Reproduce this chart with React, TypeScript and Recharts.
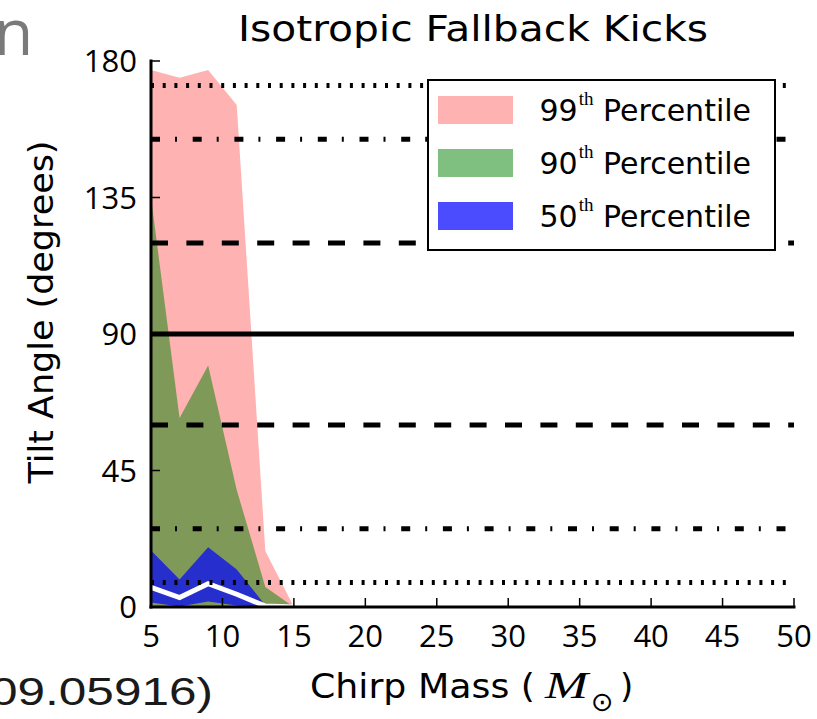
import {
  ComposedChart,
  Area,
  Line,
  XAxis,
  YAxis,
  ReferenceLine,
  Legend,
} from 'recharts';

// chirp mass bins (solar masses)
const chirpMass = [5, 7, 9, 11, 13, 15];

// tilt angle percentile bands, degrees
const p99Low = [0, 0, 0, 0, 0, 0];
const p99High = [177, 174.5, 177, 165.5, 18.5, 0];
const p90Low = [0.3, 0.3, 0.3, 0.3, 0.2, 0];
const p90High = [135, 62.3, 79.6, 38.6, 6.6, 0];
const p50Low = [1.5, 0.2, 1.8, 0.5, 0, 0];
const p50High = [18.6, 9.1, 19.7, 12.4, 0.6, 0];
const median = [6.5, 3.1, 7.7, 4.2, 0.3, 0];

const xTicks = [5, 10, 15, 20, 25, 30, 35, 40, 45, 50];
const yTicks = [0, 45, 90, 135, 180];

// isotropic reference angles (central 99 / 90 / 50 % and 90 deg)
const isoAngles = [8.1, 25.8, 60, 90, 120, 154.2, 171.9];

const percentileNames = ['99', '90', '50'];

const FONT = '"Open Sans", "DejaVu Sans", sans-serif';
const LABEL_FONT = '"DejaVu Sans", sans-serif';

const data = chirpMass.map((m, i) => ({
  x: m,
  p99: [p99Low[i], p99High[i]],
  p90: [p90Low[i], p90High[i]],
  p50: [p50Low[i], p50High[i]],
  median: median[i],
}));

function dashFor(angle: number): string | undefined {
  const d = Math.abs(angle - 90);
  if (d > 75) return '3 8.7';
  if (d > 45) return '9 15 2 15.7';
  if (d > 10) return '17 18.4';
  return undefined;
}

const swatch = ['rgba(255,0,0,0.3)', 'rgba(0,128,0,0.5)', 'rgba(0,0,255,0.7)'];

function LegendBox() {
  return (
    <div
      style={{
        position: 'relative',
        boxSizing: 'border-box',
        width: 349,
        height: 172,
        border: '2.5px solid #000',
        background: '#fff',
        fontFamily: LABEL_FONT,
      }}
    >
      {percentileNames.map((n, i) => (
        <div key={n}>
          <div
            style={{
              position: 'absolute',
              left: 9,
              top: 14.5 + i * 53.3,
              width: 75,
              height: 28,
              background: swatch[i],
            }}
          />
          <div
            style={{
              position: 'absolute',
              left: 110.5,
              top: 11.8 + i * 53.3,
              fontSize: 30,
              lineHeight: '36px',
              whiteSpace: 'nowrap',
              color: '#000',
            }}
          >
            {n}
            <span
              style={{
                fontFamily: '"Liberation Serif", serif',
                fontSize: 19,
                position: 'relative',
                top: -16,
                marginLeft: 1,
              }}
            >
              th
            </span>{' '}
            Percentile
          </div>
        </div>
      ))}
    </div>
  );
}

export default function App() {
  const tickStyle = { fontSize: 31, fill: '#000', fontFamily: FONT };
  const axisLine = { stroke: '#000', strokeWidth: 3, strokeLinecap: 'square' as const };
  const tickLine = { stroke: '#000', strokeWidth: 1.5 };

  return (
    <div
      style={{
        position: 'fixed',
        left: 0,
        top: 0,
        width: 817,
        height: 719,
        background: '#fff',
      }}
    >
      <ComposedChart
        width={817}
        height={719}
        data={data}
        margin={{ top: 61, right: 23, left: 51, bottom: 52 }}
      >
        <Area
          type="linear"
          dataKey="p99"
          fill="#ff0000"
          fillOpacity={0.3}
          stroke="none"
          isAnimationActive={false}
        />
        <Area
          type="linear"
          dataKey="p90"
          fill="#008000"
          fillOpacity={0.5}
          stroke="none"
          isAnimationActive={false}
        />
        <Area
          type="linear"
          dataKey="p50"
          fill="#0000ff"
          fillOpacity={0.7}
          stroke="none"
          isAnimationActive={false}
        />
        <Line
          type="linear"
          dataKey="median"
          stroke="#fff"
          strokeWidth={5}
          dot={false}
          isAnimationActive={false}
        />
        {isoAngles.map((a) => (
          <ReferenceLine
            key={a}
            y={a}
            stroke="#000"
            strokeWidth={5}
            strokeDasharray={dashFor(a)}
          />
        ))}
        <XAxis
          dataKey="x"
          type="number"
          domain={[5, 50]}
          ticks={xTicks}
          interval={0}
          height={60}
          tickSize={-9}
          tickMargin={27}
          tick={tickStyle}
          tickLine={tickLine}
          axisLine={axisLine}
        />
        <XAxis
          xAxisId="top"
          orientation="top"
          type="number"
          domain={[5, 50]}
          ticks={xTicks}
          interval={0}
          height={0}
          tickSize={-9}
          tick={false}
          tickLine={tickLine}
          axisLine={axisLine}
        />
        <YAxis
          type="number"
          domain={[0, 180]}
          ticks={yTicks}
          interval={0}
          width={100}
          tickSize={-9}
          tickMargin={23}
          tick={tickStyle}
          tickLine={tickLine}
          axisLine={axisLine}
        />
        <YAxis
          yAxisId="right"
          orientation="right"
          type="number"
          domain={[0, 180]}
          ticks={yTicks}
          interval={0}
          width={0}
          tickSize={-9}
          tick={false}
          tickLine={tickLine}
          axisLine={axisLine}
        />
        <Legend
          layout="vertical"
          align="center"
          verticalAlign="middle"
          wrapperStyle={{ left: 427, top: 79, width: 349 }}
          content={() => <LegendBox />}
        />
        <text
          x={473}
          y={41}
          textAnchor="middle"
          fontSize={35}
          fontFamily={LABEL_FONT}
          fill="#000"
          textLength={470}
          lengthAdjust="spacingAndGlyphs"
        >
          Isotropic Fallback Kicks
        </text>
        <text
          x={310}
          y={698}
          fontSize={34}
          fontFamily={LABEL_FONT}
          fill="#000"
          textLength={225}
          lengthAdjust="spacingAndGlyphs"
        >
          Chirp Mass (
        </text>
        <text
          x={545}
          y={698}
          fontSize={38}
          fontFamily='"Liberation Serif", serif'
          fontStyle="italic"
          fill="#000"
          textLength={43}
          lengthAdjust="spacingAndGlyphs"
        >
          M
        </text>
        <text x={591} y={711} fontSize={27} fontFamily={LABEL_FONT} fill="#000">
          ⊙
        </text>
        <text x={620} y={698} fontSize={34} fontFamily={LABEL_FONT} fill="#000">
          )
        </text>
        <text
          transform="rotate(-90)"
          x={-312}
          y={53}
          textAnchor="middle"
          fontSize={34}
          fontFamily={LABEL_FONT}
          fill="#000"
          textLength={343}
          lengthAdjust="spacingAndGlyphs"
        >
          Tilt Angle (degrees)
        </text>
        <text x={-6} y={55} fontSize={64} fontFamily={FONT} fill="#7a7a7a">
          n
        </text>
        <text
          x={-10}
          y={705}
          fontSize={39}
          fontFamily='"Liberation Sans", sans-serif'
          fill="#1a1a1a"
          textLength={223}
          lengthAdjust="spacingAndGlyphs"
        >
          09.05916)
        </text>
      </ComposedChart>
    </div>
  );
}
